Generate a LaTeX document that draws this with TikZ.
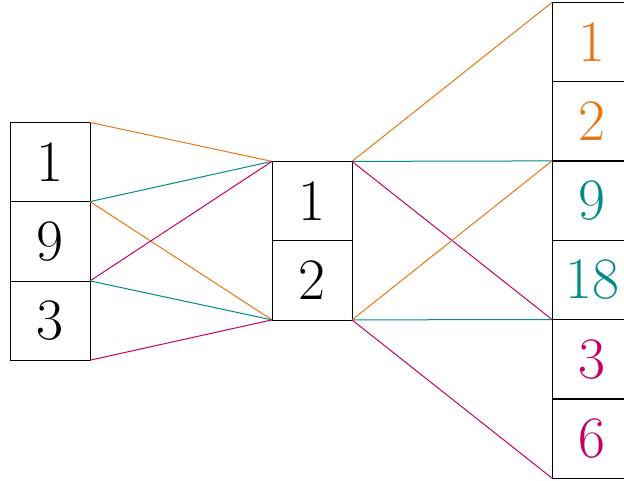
\documentclass[tikz,border=0pt]{standalone}
\definecolor{cor}{RGB}{232,117,20}
\definecolor{cte}{RGB}{0,138,138}
\definecolor{cma}{RGB}{196,0,104}
\begin{document}
\begin{tikzpicture}[x=0.75pt,y=-0.75pt,
  cell/.style={draw=black,line width=0.6pt,minimum width=60pt,minimum height=59.4pt,inner sep=0pt,outer sep=0pt,font=\fontsize{44}{48}\selectfont},
  lnk/.style={line width=0.75pt}]
\useasboundingbox (0,0) rectangle (624,481);
% left column
\node[cell] (L1) at (50,162) {1};
\node[cell] (L2) at (50,241.3) {9};
\node[cell] (L3) at (50,320.6) {3};
% middle
\node[cell] (M1) at (312,201) {1};
\node[cell] (M2) at (312,280.3) {2};
% right
\node[cell,text=cor] (R1) at (592,42) {1};
\node[cell,text=cor] (R2) at (592,121.3) {2};
\node[cell,text=cte] (R3) at (592,200.6) {9};
\node[cell,text=cte] (R4) at (592,279.9) {18};
\node[cell,text=cma] (R5) at (592,359.2) {3};
\node[cell,text=cma] (R6) at (592,438.5) {6};
% left to middle
\draw[lnk,cor] (L1.north east) -- (M1.north west);
\draw[lnk,cte] (L1.south east) -- (M1.north west);
\draw[lnk,cor] (L1.south east) -- (M2.south west);
\draw[lnk,cma] (L2.south east) -- (M1.north west);
\draw[lnk,cte] (L2.south east) -- (M2.south west);
\draw[lnk,cma] (L3.south east) -- (M2.south west);
% middle to right
\draw[lnk,cor] (M1.north east) -- (R1.north west);
\draw[lnk,cte] (M1.north east) -- (R2.south west);
\draw[lnk,cma] (M1.north east) -- (R4.south west);
\draw[lnk,cor] (M2.south east) -- (R2.south west);
\draw[lnk,cte] (M2.south east) -- (R4.south west);
\draw[lnk,cma] (M2.south east) -- (R6.south west);
\end{tikzpicture}
\end{document}
